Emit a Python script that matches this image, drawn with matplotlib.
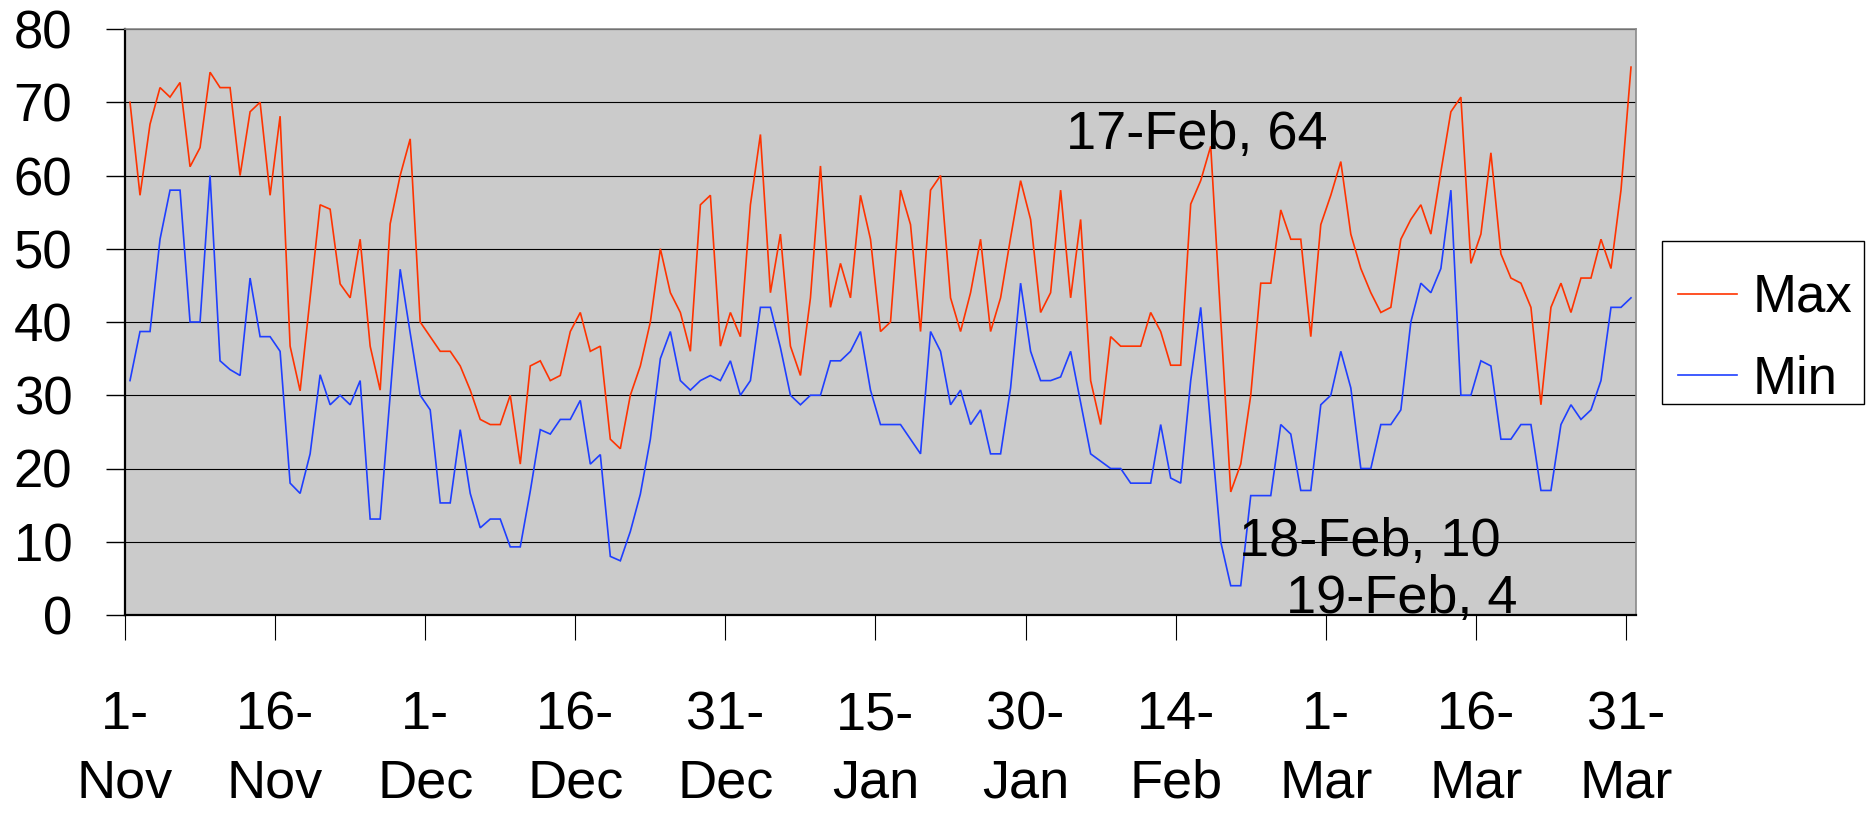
import matplotlib
matplotlib.use("Agg")
import matplotlib.pyplot as plt
from matplotlib.patches import Rectangle
import pandas as pd

plt.rcParams['font.family'] = ['Liberation Sans', 'DejaVu Sans']

# ---- data -------------------------------------------------------------
dates = pd.date_range('2006-11-01', '2007-03-31', freq='D')
day_labels = [f"{d.day}-{d.strftime('%b')}" for d in dates]

max_temps = [
    70, 57.3, 67, 72, 70.7, 72.7, 61.2, 63.8, 74.1, 72,
    72, 60, 68.7, 70, 57.3, 68.1, 36.7, 30.6, 43.3, 56,
    55.4, 45.2, 43.3, 51.3, 36.7, 30.7, 53.4, 60, 65, 40,
    38, 36, 36, 34, 30.7, 26.7, 26, 26, 30, 20.6,
    34, 34.7, 32, 32.7, 38.7, 41.3, 36, 36.7, 24, 22.7,
    30, 34, 40, 50, 44, 41.3, 36, 56, 57.3, 36.7,
    41.3, 38, 56, 65.6, 44, 52, 36.7, 32.7, 43.3, 61.3,
    42, 48, 43.3, 57.3, 51.3, 38.7, 40, 58, 53.3, 38.7,
    58, 60, 43.3, 38.7, 44, 51.3, 38.7, 43.3, 51.5, 59.3,
    54, 41.3, 44, 58, 43.3, 54, 32, 26, 38, 36.7,
    36.7, 36.7, 41.3, 38.7, 34.1, 34.1, 56.1, 59.3, 64, 40.5,
    16.8, 20.6, 30, 45.3, 45.3, 55.3, 51.3, 51.3, 38, 53.3,
    57.3, 61.9, 52, 47.3, 44, 41.3, 42, 51.3, 54, 56,
    52, 60.5, 68.7, 70.7, 48, 52, 63.1, 49.3, 46, 45.3,
    42, 28.7, 42, 45.3, 41.3, 46, 46, 51.3, 47.3, 58,
    74.8,
]

min_temps = [
    32, 38.7, 38.7, 51.3, 58, 58, 40, 40, 60, 34.7,
    33.5, 32.7, 46, 38, 38, 36, 18, 16.6, 22, 32.8,
    28.7, 30, 28.7, 32, 13.1, 13.1, 30, 47.2, 38.5, 30,
    28, 15.3, 15.3, 25.3, 16.6, 11.9, 13.1, 13.1, 9.3, 9.3,
    16.9, 25.3, 24.7, 26.7, 26.7, 29.3, 20.6, 21.9, 8, 7.4,
    11.4, 16.5, 24, 35, 38.7, 32, 30.7, 32, 32.7, 32,
    34.7, 30, 32, 42, 42, 36.5, 30, 28.7, 30, 30,
    34.7, 34.7, 36, 38.7, 30.7, 26, 26, 26, 24, 22,
    38.7, 36, 28.7, 30.7, 26, 28, 22, 22, 31, 45.3,
    36, 32, 32, 32.5, 36, 29, 22, 21, 20, 20,
    18, 18, 18, 26, 18.7, 18, 32, 42, 25.7, 10,
    4, 4, 16.3, 16.3, 16.3, 26, 24.7, 17, 17, 28.7,
    30, 36, 31, 20, 20, 26, 26, 28, 40, 45.3,
    44, 47.3, 58, 30, 30, 34.7, 34, 24, 24, 26,
    26, 17, 17, 26, 28.7, 26.7, 28, 32, 42, 42,
    43.3,
]

series_names = ['Max', 'Min']
tick_days = list(range(0, 151, 15))
tick_labels = [f"{dates[i].day}-\n{dates[i].strftime('%b')}" for i in tick_days]
y_ticks = [0, 10, 20, 30, 40, 50, 60, 70, 80]

# labelled points: (series, day index)
labelled = [('Max', 108), ('Min', 109), ('Min', 110)]

# ---- figure -----------------------------------------------------------
W, H, DPI = 1870, 817, 100
fig = plt.figure(figsize=(W / DPI, H / DPI), dpi=DPI)
L, R, T, B = 125, 1636, 29, 615
ax = fig.add_axes([L / W, 1 - B / H, (R - L) / W, (B - T) / H])
ax.set_facecolor('#cbcbcb')

x = list(range(len(dates)))
colors = {'Max': '#ff3300', 'Min': '#1f3fff'}
data = {'Max': max_temps, 'Min': min_temps}
for name in series_names:
    ax.plot(x, data[name], color=colors[name], lw=1.2, label=name, zorder=3,
            solid_joinstyle='miter')

ax.set_xlim(-0.5, len(dates) - 0.5)
ax.set_ylim(0, 80)
ax.set_yticks(y_ticks)
ax.set_yticklabels([str(v) for v in y_ticks], fontsize=38)
ax.set_xticks([i - 0.5 for i in tick_days])
ax.set_xticklabels(tick_labels, fontsize=39, linespacing=1.47)

ax.yaxis.grid(True, color='#000000', lw=0.8, zorder=1)
ax.set_axisbelow(True)
ax.tick_params(axis='y', direction='out', length=14, width=1, color='#000000', pad=24)
ax.tick_params(axis='x', direction='out', length=18, width=0.8, color='#000000', pad=36)

for s in ['left', 'bottom']:
    ax.spines[s].set_color('#000000')
    ax.spines[s].set_linewidth(1.6)
for s in ['top', 'right']:
    ax.spines[s].set_color('#8a8a8a')
    ax.spines[s].set_linewidth(1.2)

# data labels
offsets = {('Max', 108): (-14, -3, 'center'),
           ('Min', 109): (18, -14, 'left'),
           ('Min', 110): (55, -27, 'left')}
for name, i in labelled:
    v = data[name][i]
    dx, dy, ha = offsets[(name, i)]
    ax.annotate(f"{day_labels[i]}, {v:g}", xy=(i, v), xytext=(dx, dy),
                textcoords='offset pixels', ha=ha, va='baseline',
                fontsize=39, color='black', zorder=5)

# legend entries (no frame) + separate frame box
leg = ax.legend(loc='upper left', bbox_to_anchor=(1678 / W, 1 - 273 / H),
                bbox_transform=fig.transFigure, borderaxespad=0,
                fontsize=38, frameon=False, handlelength=1.12,
                handletextpad=0.3, borderpad=0, labelspacing=0.6)
for line in leg.get_lines():
    line.set_linewidth(1.2)

fig.patches.append(Rectangle((1662 / W, 1 - 404 / H), 202 / W, 163 / H,
                             transform=fig.transFigure, facecolor='none',
                             edgecolor='#000000', lw=1.0, zorder=5))

fig.savefig('out.png', dpi=DPI, facecolor='white')
